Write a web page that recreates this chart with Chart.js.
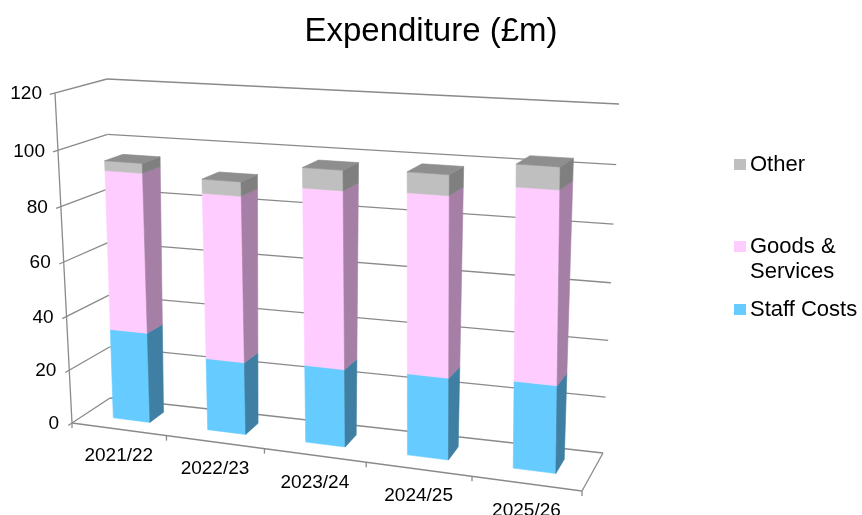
<!DOCTYPE html>
<html>
<head>
<meta charset="utf-8">
<title>Expenditure</title>
<script src="https://cdn.jsdelivr.net/npm/chart.js@4.4.0/dist/chart.umd.min.js"></script>
<style>
  html, body { margin: 0; padding: 0; background: #fff; }
  #wrap { width: 862px; height: 515px; }
</style>
</head>
<body>
<div id="wrap"><canvas id="expChart"></canvas></div>
<script>
// data (£m)
const years = ["2021/22", "2022/23", "2023/24", "2024/25", "2025/26"];
const staffCosts = [33.5, 26.5, 28, 29, 30.5];
const goodsServices = [58, 59.5, 62.5, 62.5, 65.5];
const otherCosts = [3.5, 5, 7, 7, 7.5];
const yTicks = [0, 20, 40, 60, 80, 100, 120];
const seriesNames = ["Staff Costs", "Goods & Services", "Other"];

const FONT = "'Liberation Sans', Arial, sans-serif";

// screen corners of the 3D box: f = front, b = back; first digit u (0 left, 1 right), second v (0 floor, 1 top)
const BOX = {
    f00: [72, 423], f10: [582, 491], f01: [55, 93], f11: [583, 125],
    b00: [110, 398], b10: [603, 453], b01: [107, 79], b11: [619, 104]
};
const KU = 0.1, KV = 0.05;      // perspective foreshortening
const BAR_DEPTH = [0.35, 0.73];  // bar front/back inside the floor depth

function mix(p, q, t) {
    return [p[0] + (q[0] - p[0]) * t, p[1] + (q[1] - p[1]) * t];
}

function proj(u, v, d) {
    const uu = u / (1 + KU * (1 - u));
    const vv = v / (1 + KV * (1 - v));
    const front = mix(mix(BOX.f00, BOX.f10, uu), mix(BOX.f01, BOX.f11, uu), vv);
    const back = mix(mix(BOX.b00, BOX.b10, uu), mix(BOX.b01, BOX.b11, uu), vv);
    return mix(front, back, d);
}

function line(ctx, a, b) {
    ctx.beginPath();
    ctx.moveTo(a[0], a[1]);
    ctx.lineTo(b[0], b[1]);
    ctx.stroke();
}

function face(ctx, pts, color) {
    ctx.beginPath();
    ctx.moveTo(pts[0][0], pts[0][1]);
    for (let i = 1; i < pts.length; i++) ctx.lineTo(pts[i][0], pts[i][1]);
    ctx.closePath();
    ctx.fillStyle = color;
    ctx.strokeStyle = color;
    ctx.lineWidth = 0.6;
    ctx.fill();
    ctx.stroke();
}

function wrapText(ctx, text, maxW) {
    const words = text.split(" ");
    const lines = [];
    let cur = "";
    words.forEach(w => {
        const test = cur ? cur + " " + w : w;
        if (ctx.measureText(test).width > maxW && cur) {
            lines.push(cur);
            cur = w;
        } else {
            cur = test;
        }
    });
    lines.push(cur);
    return lines;
}

// draws walls, bars (from the bar elements), axis labels and legend in perspective
const box3d = {
    id: "box3d",
    beforeDatasetsDraw(chart) {
        const ctx = chart.ctx;
        const area = chart.chartArea;
        const xs = chart.scales.x, ys = chart.scales.y;
        const U = px => (px - area.left) / (area.right - area.left);
        const V = py => (area.bottom - py) / (area.bottom - area.top);

        ctx.save();

        // walls and gridlines
        ctx.strokeStyle = "#8a8a8a";
        ctx.lineWidth = 1.3;
        yTicks.forEach(t => {
            const v = V(ys.getPixelForValue(t));
            line(ctx, proj(0, v, -0.1), proj(0, v, 1));
            line(ctx, proj(0, v, 1), proj(1, v, 1));
        });
        line(ctx, proj(0, 0, 0), proj(0, 1, 0));
        line(ctx, proj(0, 0, 0), proj(1, 0, 0));
        line(ctx, proj(1, 0, 0), proj(1, 0, 1));

        // category tick marks on the floor edge
        for (let i = 0; i <= years.length; i++) {
            let px;
            if (i === 0) px = area.left;
            else if (i === years.length) px = area.right;
            else px = (xs.getPixelForValue(i - 1) + xs.getPixelForValue(i)) / 2;
            const p = proj(U(px), 0, 0);
            line(ctx, p, [p[0], p[1] + 5]);
        }

        // bars
        const nSets = chart.data.datasets.length;
        years.forEach((_, i) => {
            for (let k = 0; k < nSets; k++) {
                const ds = chart.data.datasets[k];
                const bar = chart.getDatasetMeta(k).data[i];
                const p = bar.getProps(["x", "y", "base", "width"], true);
                const u0 = U(p.x - p.width / 2), u1 = U(p.x + p.width / 2);
                const v0 = V(p.base), v1 = V(p.y);
                const d0 = BAR_DEPTH[0], d1 = BAR_DEPTH[1];
                face(ctx, [proj(u0, v0, d0), proj(u1, v0, d0), proj(u1, v1, d0), proj(u0, v1, d0)], ds.backgroundColor);
                face(ctx, [proj(u1, v0, d0), proj(u1, v0, d1), proj(u1, v1, d1), proj(u1, v1, d0)], ds.sideColor);
                if (k === nSets - 1) {
                    face(ctx, [proj(u0, v1, d0), proj(u1, v1, d0), proj(u1, v1, d1), proj(u0, v1, d1)], ds.topColor);
                }
            }
        });

        // y axis labels
        ctx.fillStyle = "#000";
        ctx.font = "19px " + FONT;
        ctx.textAlign = "right";
        ctx.textBaseline = "middle";
        yTicks.forEach(t => {
            const p = proj(0, V(ys.getPixelForValue(t)), 0);
            ctx.fillText(String(t), p[0] - 13, p[1] + 1);
        });

        // category labels
        ctx.textAlign = "center";
        years.forEach((lab, i) => {
            const p = proj(U(xs.getPixelForValue(i)), 0, 0);
            ctx.fillText(lab, p[0], p[1] + 27);
        });

        // legend (top series first)
        ctx.font = "22px " + FONT;
        ctx.textAlign = "left";
        const rowY = [310, 247, 165];
        chart.data.datasets.forEach((ds, k) => {
            const y = rowY[k];
            ctx.fillStyle = ds.backgroundColor;
            ctx.fillRect(734, y - 6, 12, 11);
            ctx.fillStyle = "#000";
            wrapText(ctx, ds.label, 112).forEach((txt, j) => {
                ctx.fillText(txt, 750, y + j * 25);
            });
        });

        ctx.restore();
        return false;
    }
};

new Chart(document.getElementById("expChart"), {
    type: "bar",
    data: {
        labels: years,
        datasets: [
            { label: seriesNames[0], data: staffCosts, backgroundColor: "#66ccff", sideColor: "#3e7fa3", topColor: "#4fa6d6" },
            { label: seriesNames[1], data: goodsServices, backgroundColor: "#ffccff", sideColor: "#a57fa5", topColor: "#d9a6d9" },
            { label: seriesNames[2], data: otherCosts, backgroundColor: "#bfbfbf", sideColor: "#7f7f7f", topColor: "#8e8e8e" }
        ]
    },
    options: {
        responsive: true,
        maintainAspectRatio: false,
        animation: false,
        categoryPercentage: 0.8,
        barPercentage: 0.49,
        layout: { padding: 0 },
        plugins: {
            legend: { display: false },
            tooltip: { enabled: false },
            title: {
                display: true,
                text: "Expenditure (£m)",
                color: "#000",
                font: { family: FONT, size: 33, weight: "normal" },
                padding: { top: 12, bottom: 10 }
            }
        },
        scales: {
            x: { stacked: true, display: false },
            y: { stacked: true, display: false, min: 0, max: 120, ticks: { stepSize: 20 } }
        }
    },
    plugins: [box3d]
});
</script>
</body>
</html>
